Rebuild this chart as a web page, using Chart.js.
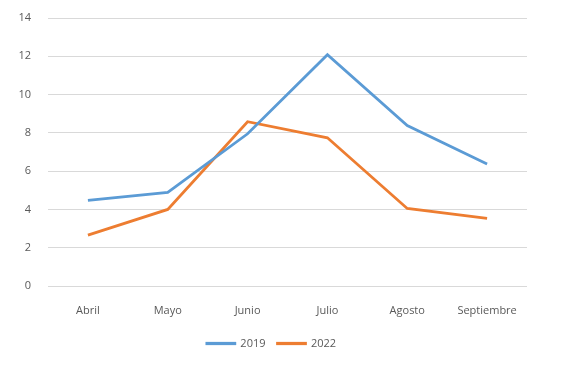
<!DOCTYPE html>
<html>
<head>
<meta charset="utf-8">
<script src="https://cdn.jsdelivr.net/npm/chart.js@4.4.0/dist/chart.umd.min.js"></script>
<style>
  html, body { margin: 0; padding: 0; background: #fff; }
  #wrap { width: 573px; height: 380px; }
</style>
</head>
<body>
<div id="wrap"><canvas id="lineChart" width="573" height="380"></canvas></div>
<script>
// datos
const meses = ["Abril", "Mayo", "Junio", "Julio", "Agosto", "Septiembre"];
const valores2019 = [4.47, 4.89, 7.95, 12.08, 8.38, 6.37];
const valores2022 = [2.66, 4.0, 8.58, 7.74, 4.05, 3.53];
const ticksY = [0, 2, 4, 6, 8, 10, 12, 14];

Chart.defaults.font.family = "'Open Sans', 'Noto Sans', sans-serif";
Chart.defaults.font.size = 11;
Chart.defaults.color = "#595959";

const ctx = document.getElementById("lineChart").getContext("2d");
const lineChart = new Chart(ctx, {
    type: "line",
    data: {
        labels: meses,
        datasets: [
            {
                label: "2019",
                data: valores2019,
                borderColor: "#5B9BD5",
                backgroundColor: "#5B9BD5",
                borderWidth: 2.75,
                pointRadius: 0,
                tension: 0,
            },
            {
                label: "2022",
                data: valores2022,
                borderColor: "#ED7D31",
                backgroundColor: "#ED7D31",
                borderWidth: 2.75,
                pointRadius: 0,
                tension: 0,
            },
        ],
    },
    options: {
        responsive: false,
        animation: false,
        layout: {
            padding: { top: 18, right: 46, left: 16, bottom: 21 },
        },
        plugins: {
            tooltip: { enabled: false },
            legend: {
                position: "bottom",
                labels: {
                    boxWidth: 28,
                    boxHeight: 0.5,
                    padding: 12,
                    font: { size: 11 },
                },
            },
        },
        scales: {
            x: {
                offset: true,
                grid: { display: false, drawTicks: false },
                border: { display: false },
                ticks: { padding: 18, maxRotation: 0 },
                afterFit: (scale) => {
                    scale.height = 40;
                    scale.paddingLeft = 0;
                    scale.paddingRight = 0;
                },
            },
            y: {
                min: 0,
                max: 14,
                afterBuildTicks: (scale) => {
                    scale.ticks = ticksY.map((v) => ({ value: v }));
                },
                grid: { color: "#D9D9D9", drawTicks: false, lineWidth: 1 },
                border: { display: false },
                ticks: { padding: 17 },
                afterFit: (scale) => {
                    scale.width = 32;
                    scale.paddingTop = 0;
                    scale.paddingBottom = 0;
                },
            },
        },
    },
});
</script>
</body>
</html>
